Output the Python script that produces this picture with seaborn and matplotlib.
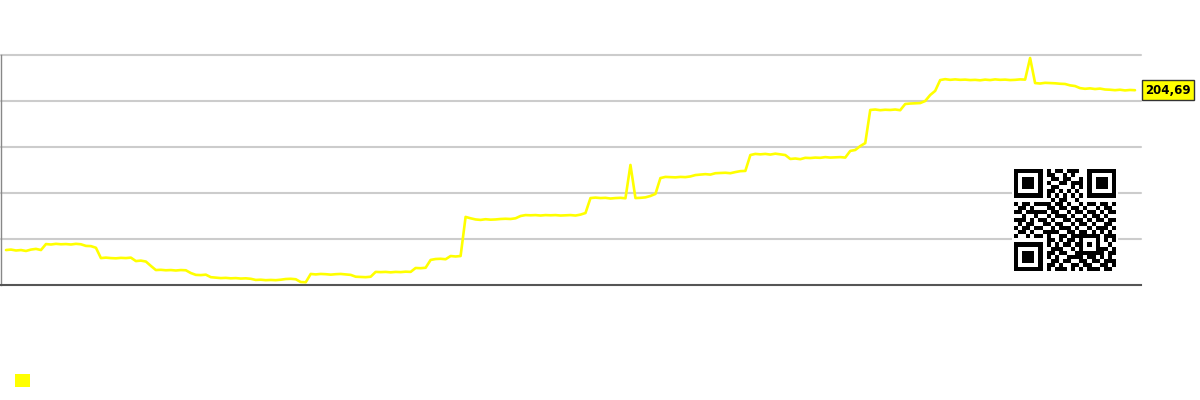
import numpy as np
import pandas as pd
import matplotlib
matplotlib.use("Agg")
import matplotlib.pyplot as plt
from matplotlib.patches import Patch
import seaborn as sns

# ---- data ----
values = [
    135.2, 135.4, 135.0, 135.2, 134.8, 135.4, 135.7, 135.2, 137.8, 137.6,
    137.9, 137.7, 137.8, 137.6, 137.9, 137.7, 137.0, 136.9, 136.2, 131.7,
    131.9, 131.7, 131.6, 131.8, 131.7, 131.9, 130.4, 130.6, 130.2, 128.3,
    126.5, 126.6, 126.4, 126.5, 126.3, 126.5, 126.4, 125.2, 124.4, 124.3,
    124.5, 123.4, 123.2, 123.0, 123.1, 122.9, 123.0, 122.8, 122.9, 122.7,
    122.2, 122.3, 122.1, 122.2, 122.1, 122.3, 122.6, 122.7, 122.5, 121.3,
    121.2, 124.8, 124.6, 124.8, 124.7, 124.5, 124.7, 124.8, 124.6, 124.4,
    123.6, 123.5, 123.4, 123.6, 125.7, 125.6, 125.7, 125.5, 125.7, 125.6,
    125.8, 125.7, 127.4, 127.3, 127.5, 130.9, 131.3, 131.4, 131.2, 132.6,
    132.4, 132.6, 149.6, 149.0, 148.5, 148.3, 148.6, 148.4, 148.5, 148.7,
    148.8, 148.7, 149.0, 150.0, 150.4, 150.3, 150.4, 150.2, 150.4, 150.3,
    150.4, 150.2, 150.3, 150.4, 150.2, 150.6, 151.3, 157.8, 158.0, 157.8,
    157.9, 157.6, 157.8, 157.9, 157.7, 172.2, 157.8, 157.9, 158.1, 158.7,
    159.6, 166.5, 167.0, 166.9, 166.8, 167.0, 166.9, 167.2, 167.8, 168.0,
    168.2, 168.0, 168.6, 168.7, 168.8, 168.6, 169.1, 169.5, 169.6, 176.5,
    177.0, 176.8, 177.0, 176.7, 177.1, 176.8, 176.5, 174.8, 175.0, 174.7,
    175.3, 175.2, 175.4, 175.3, 175.6, 175.4, 175.5, 175.6, 175.4, 178.3,
    178.7, 180.4, 181.7, 196.1, 196.3, 196.0, 196.2, 196.1, 196.3, 196.0,
    198.7, 198.9, 199.0, 199.1, 200.0, 202.6, 204.4, 209.1, 209.5, 209.2,
    209.4, 209.2, 209.3, 209.1, 209.2, 209.0, 209.3, 209.1, 209.4, 209.2,
    209.3, 209.1, 209.2, 209.4, 209.3, 218.7, 207.8, 207.6, 207.9, 207.8,
    207.7, 207.5, 207.4, 206.8, 206.5, 205.6, 205.3, 205.5, 205.2, 205.4,
    205.0, 204.9, 204.7, 204.9, 204.6, 204.8, 204.69,
]
last_label = "204,69"
grid_values = [140, 160, 180, 200, 220]
y_min, y_max = 120, 220

qr_rows = [
    "0000000010110111000000000",
    "0000000011001010000000000",
    "0000000001101100100000000",
    "0000000010011011100000000",
    "0000000001100010100000000",
    "0000000011010101000000000",
    "0000000000000000000000000",
    "0000000001011001000000000",
    "1011010110110100101101101",
    "0110100011011011010010110",
    "1101110101100101101101011",
    "0010011010111010010110100",
    "1110101101001101101011011",
    "0101100110110010110100110",
    "1011011001011101001011101",
    "0110100111100110110101010",
    "1001011010011011000000111",
    "0000000011010110100000101",
    "0000000010101101000000010",
    "0000000001110010000001101",
    "0000000011011001000001011",
    "0000000010100111101101010",
    "0000000001101100110110111",
    "0000000011010011011001101",
    "0000000010111010101110110",
]

YELLOW = "#ffff00"

sns.set_style("white")
plt.rcParams["font.family"] = ["DejaVu Sans"]

fig = plt.figure(figsize=(12, 4), dpi=100)
W, H = 1200, 400
ax = fig.add_axes([1 / W, 1 - 285 / H, 1140 / W, 230 / H])

df = pd.DataFrame({"i": np.arange(len(values)), "v": values})
sns.lineplot(data=df, x="i", y="v", ax=ax, color=YELLOW, lw=1.9)

ax.set_xlim(-1, 227.2)
ax.set_ylim(y_min, y_max)
ax.set_yticks(grid_values)
ax.set_xticks([])
ax.tick_params(left=False, bottom=False, labelleft=False, labelbottom=False)
ax.set_xlabel("")
ax.set_ylabel("")
ax.grid(axis="y", color="#cccccc", lw=1.5)
ax.set_axisbelow(True)
for gl in ax.get_ygridlines():
    gl.set_clip_on(False)
for s in ["top", "right"]:
    ax.spines[s].set_visible(False)
ax.spines["left"].set_color("#888888")
ax.spines["left"].set_linewidth(1.0)
ax.spines["bottom"].set_color("#555555")
ax.spines["bottom"].set_linewidth(1.5)

ax.annotate(last_label, xy=(1.0, values[-1]), xycoords=("axes fraction", "data"),
            xytext=(3.0, 0), textcoords="offset points",
            ha="left", va="center", fontsize=8.5, fontweight="bold", color="black",
            bbox=dict(boxstyle="square,pad=0.3", fc=YELLOW, ec="#333333", lw=1.0),
            annotation_clip=False)

# QR code block
m = np.array([[int(c) for c in r[:25].ljust(25, "0")] for r in qr_rows])

def finder(r, c):
    m[max(r - 1, 0):r + 8, max(c - 1, 0):c + 8] = 0
    m[r:r + 7, c:c + 7] = 1
    m[r + 1:r + 6, c + 1:c + 6] = 0
    m[r + 2:r + 5, c + 2:c + 5] = 1

finder(0, 0)
finder(0, 18)
finder(18, 0)
for k in range(8, 17):
    m[6, k] = 1 if k % 2 == 0 else 0
    m[k, 6] = 1 if k % 2 == 0 else 0
m[16:21, 16:21] = 1
m[17:20, 17:20] = 0
m[18, 18] = 1
m[17, 8] = 1

bg = fig.add_axes([1012 / W, 1 - 273 / H, 106 / W, 106 / H], zorder=4)
bg.set_facecolor("white")
bg.set_xticks([]); bg.set_yticks([])
for s in bg.spines.values():
    s.set_visible(False)

qax = fig.add_axes([1012 / W, 1 - 273 / H, 106 / W, 106 / H], zorder=5)
qax.imshow(m, cmap="gray_r", interpolation="nearest", extent=(0, 25, 25, 0), vmin=0, vmax=1)
qax.set_xlim(-0.5, 25.5)
qax.set_ylim(25.5, -0.5)
qax.axis("off")

fig.legend(handles=[Patch(facecolor=YELLOW, edgecolor="none")], labels=[""],
           loc="lower left", bbox_to_anchor=(15 / W, 1 - 388 / H),
           frameon=False, fontsize=10, handlelength=1.08, handleheight=1.08,
           borderpad=0, borderaxespad=0, handletextpad=0)

fig.savefig("out.png", dpi=100, facecolor="white")
